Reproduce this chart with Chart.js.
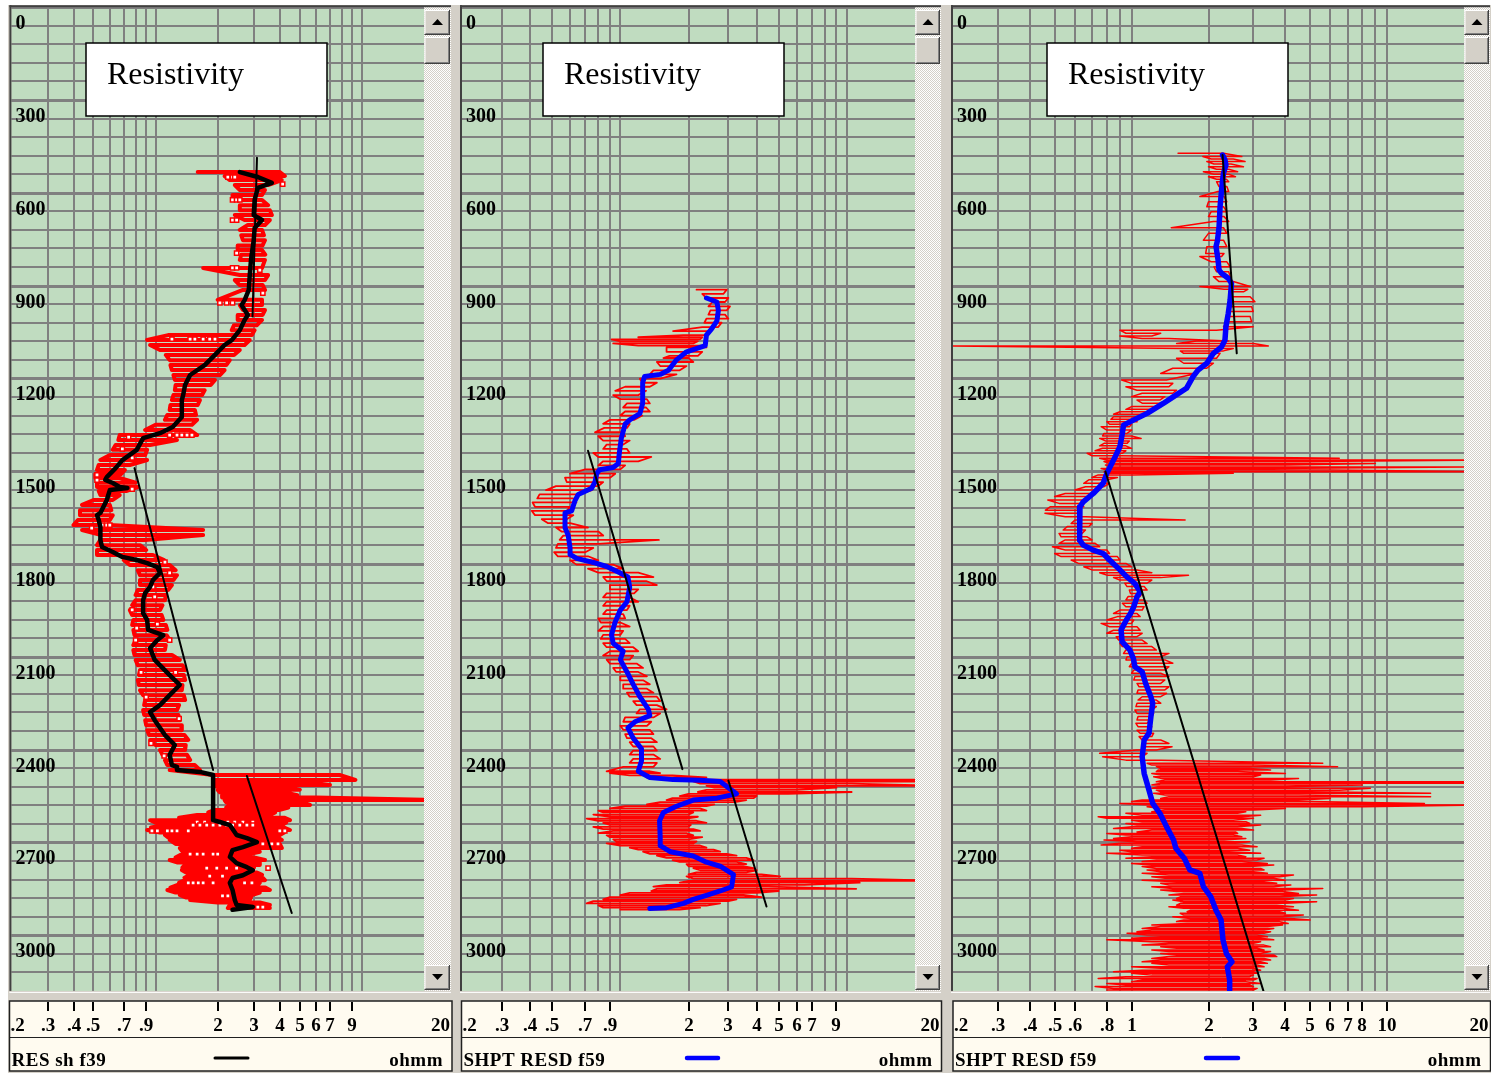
<!DOCTYPE html>
<html><head><meta charset="utf-8">
<script src="https://cdn.jsdelivr.net/npm/chart.js@4.4.1/dist/chart.umd.min.js"></script>
<style>
html,body{margin:0;padding:0;background:#fff;}
#wrap{position:relative;width:1491px;height:1073px;overflow:hidden;}
canvas{position:absolute;left:0;top:0;}
</style></head><body><div id="wrap">
<canvas id="c1" width="1491" height="1073"></canvas>
<canvas id="c2" width="1491" height="1073"></canvas>
<canvas id="c3" width="1491" height="1073"></canvas>
</div>
<script>
// ---------- axis / label data ----------
const depthGridValues = [0,60,120,180,240,300,360,420,480,540,600,660,720,780,840,900,960,1020,1080,1140,1200,1260,1320,1380,1440,1500,1560,1620,1680,1740,1800,1860,1920,1980,2040,2100,2160,2220,2280,2340,2400,2460,2520,2580,2640,2700,2760,2820,2880,2940,3000,3060,3120];
const depthLabels = [0,300,600,900,1200,1500,1800,2100,2400,2700,3000];
const xGridValues = [0.3,0.4,0.5,0.6,0.7,0.8,0.9,1,2,3,4,5,6,7,8,9,10];
const scaleTicksA = [0.3,0.4,0.5,0.7,0.9,2,3,4,5,6,7,9];
const scaleLabelsA = ['.3','.4','.5','.7','.9','2','3','4','5','6','7','9'];
const scaleTicksB = [0.3,0.4,0.5,0.6,0.8,1,2,3,4,5,6,7,8,10];
const scaleLabelsB = ['.3','.4','.5','.6','.8','1','2','3','4','5','6','7','8','10'];
const scaleEdgeLabels = ['.2','20'];
const titleText = 'Resistivity';
const curveNames = ['RES sh f39','SHPT RESD f59','SHPT RESD f59'];
const unitText = 'ohmm';

// ---------- panel 1 : RES sh f39 ----------
const p1RedDepth = [533,546,559,575,591,607,623,640,656,672,688,704,720,737,753,770,785,800,817,843,866,882,898,914,946,963,979,995,1011,1028,1044,1060,1076,1092,1108,1124,1141,1157,1173,1189,1205,1221,1238,1254,1270,1286,1302,1318,1334,1350,1367,1383,1399,1415,1431,1448,1464,1480,1496,1509,1522,1537,1551,1564,1577,1593,1609,1626,1642,1658,1674,1690,1706,1722,1739,1755,1771,1787,1803,1820,1836,1852,1868,1884,1900,1917,1933,1949,1965,1981,1997,2013,2030,2046,2062,2078,2094,2110,2127,2143,2159,2175,2191,2208,2224,2240,2256,2272,2288,2305,2321,2337,2353,2369,2385,2401,2417,2434,2450,2466,2482,2498,2506,2514,2522,2530,2538,2547,2555,2563,2571,2579,2587,2595,2603,2611,2620,2628,2636,2644,2652,2660,2668,2676,2684,2692,2705,2718,2730,2741,2749,2757,2765,2773,2781,2789,2797,2805,2814,2822,2830,2838,2846,2854,2862,2870,2878,2886,2894,2902,2912];
const p1RedLow = [1.60,2.16,2.29,2.42,2.56,2.36,2.36,2.56,2.56,2.42,2.70,2.80,2.56,2.60,2.65,2.50,2.50,2.60,2.56,1.70,2.56,2.42,2.55,2.65,2.00,2.56,2.65,2.50,2.50,2.40,2.34,1.15,0.91,0.94,1.05,1.12,1.17,1.18,1.20,1.22,1.24,1.25,1.24,1.22,1.20,1.18,1.17,1.14,1.11,1.00,0.89,0.67,0.66,0.64,0.62,0.60,0.54,0.53,0.52,0.51,0.51,0.52,0.52,0.53,0.54,0.50,0.44,0.43,0.43,0.42,0.40,0.44,0.54,0.54,0.52,0.52,0.52,0.70,0.75,0.82,0.84,0.84,0.84,0.82,0.80,0.80,0.77,0.75,0.77,0.78,0.77,0.78,0.79,0.80,0.78,0.78,0.79,0.80,0.82,0.84,0.83,0.82,0.83,0.84,0.87,0.89,0.88,0.87,0.88,0.89,0.90,0.91,0.93,0.94,1.00,1.05,1.08,1.11,1.14,1.17,1.90,1.90,1.95,1.90,2.00,2.00,2.05,2.11,2.10,2.16,2.20,2.29,2.20,1.94,1.80,1.59,1.30,0.94,1.00,1.09,0.95,0.91,1.05,1.11,1.15,1.17,1.25,1.31,1.35,1.31,1.25,1.17,1.28,1.39,1.35,1.34,1.40,1.47,1.38,1.39,1.30,1.27,1.18,1.14,1.25,1.31,1.40,1.47,2.00,2.29,2.24];
const p1RedHigh = [4.00,4.23,4.09,3.51,3.39,3.28,3.28,3.51,3.58,3.66,3.58,3.39,3.28,3.35,3.39,3.30,3.28,3.40,3.39,3.28,3.51,3.39,3.30,3.39,3.28,3.28,3.39,3.30,3.28,3.10,3.02,2.93,2.86,2.70,2.56,2.40,2.29,2.20,2.16,2.05,1.94,1.85,1.73,1.68,1.64,1.60,1.55,1.57,1.59,1.50,1.47,1.59,1.27,0.94,0.91,0.89,0.91,0.75,0.71,0.68,0.67,0.80,0.82,0.72,0.67,0.62,0.60,0.61,0.62,0.60,0.60,1.70,1.70,0.89,0.84,0.90,0.97,1.10,1.17,1.25,1.27,1.22,1.20,1.15,1.12,1.11,1.08,1.05,1.07,1.09,1.12,1.14,1.13,1.17,1.12,1.11,1.20,1.31,1.35,1.39,1.37,1.39,1.35,1.34,1.37,1.39,1.30,1.27,1.29,1.31,1.33,1.34,1.38,1.44,1.40,1.39,1.42,1.47,1.55,1.64,7.8,9.3,5.6,7.0,4.5,5.0,4.2,4.86,6.0,25,5.2,5.6,4.4,4.0,3.8,3.58,4.2,4.48,4.3,4.09,4.2,4.48,4.2,4.00,3.9,4.09,4.0,4.09,3.2,2.70,3.0,3.39,3.2,3.20,3.0,2.93,3.1,3.28,3.3,3.39,3.2,3.13,3.4,3.58,3.2,2.93,2.9,2.86,3.2,3.58,3.58];
const p1MarkDepth = [549,549,549,572,623,623,623,688,688,795,843,843,850,924,956,956,956,1073,1073,1073,1073,1073,1073,1383,1383,1383,1383,1383,1390,1428,1457,1512,1529,1558,1674,1674,1674,1684,1794,1829,1874,1906,1948,1994,2007,2046,2046,2150,2150,2230,2300,2380,2420,2634,2634,2634,2634,2634,2634,2634,2634,2644,2644,2644,2644,2644,2644,2644,2644,2644,2644,2663,2663,2663,2663,2663,2663,2663,2663,2705,2705,2705,2738,2738,2738,2738,2738,2783,2783,2783,2783,2783,2809,2809,2831,2831,2831,2831,2831,2831,2831,2873,2873,2909,2909];
const p1MarkRes = [2.24,2.36,2.42,4.13,2.36,2.47,2.56,2.36,2.47,2.47,2.36,2.47,3.20,3.31,2.05,2.21,2.36,1.20,1.47,1.55,1.70,1.83,1.94,1.17,1.27,1.34,1.42,1.50,0.74,0.69,0.77,0.52,0.52,0.77,0.55,0.58,0.60,0.49,1.11,1.17,0.97,0.99,0.77,1.02,0.81,0.80,1.17,0.85,1.25,0.90,1.30,0.95,1.10,1.59,1.73,1.90,2.05,2.24,2.42,2.65,2.96,1.52,1.64,1.77,1.90,2.05,2.21,2.36,2.56,2.77,2.96,0.96,1.02,1.14,1.20,1.27,1.44,4.00,4.23,3.31,3.66,3.92,1.47,1.59,1.70,1.90,2.00,1.77,1.98,2.21,2.47,3.51,1.83,2.11,1.44,1.52,1.61,1.70,1.90,2.70,2.93,2.11,2.24,3.13,3.31];
const p1CurveDepth = [533,549,568,584,623,672,688,714,753,817,866,914,947,963,995,1011,1044,1076,1092,1124,1157,1189,1221,1254,1270,1325,1357,1377,1393,1431,1464,1490,1519,1528,1538,1551,1554,1561,1593,1635,1642,1658,1680,1722,1745,1761,1777,1787,1797,1810,1829,1852,1874,1894,1917,1959,1981,2013,2030,2046,2072,2110,2159,2191,2224,2256,2279,2305,2353,2385,2417,2450,2456,2466,2472,2482,2628,2634,2644,2676,2686,2699,2715,2725,2747,2767,2780,2790,2806,2815,2831,2854,2886,2902,2909,2918];
const p1CurveRes = [2.56,3.13,3.66,3.13,3.02,2.99,3.28,3.02,2.99,2.90,2.86,2.83,2.70,2.61,2.80,2.70,2.56,2.34,2.16,1.94,1.73,1.47,1.39,1.36,1.34,1.34,1.21,1.05,0.87,0.81,0.69,0.64,0.58,0.57,0.62,0.67,0.73,0.60,0.58,0.54,0.52,0.53,0.54,0.54,0.55,0.62,0.69,0.81,0.91,1.02,1.05,0.97,0.94,0.89,0.87,0.87,0.91,0.92,1.09,1.02,0.94,0.99,1.17,1.31,1.17,1.05,0.94,0.99,1.11,1.24,1.17,1.20,1.27,1.27,1.64,1.90,1.90,2.05,2.29,2.47,2.77,3.10,2.65,2.36,2.29,2.47,2.77,2.96,2.65,2.36,2.29,2.36,2.42,2.47,2.96,2.36];
const p1TrendADepth = [487,1000], p1TrendARes = [3.10,2.95];
const p1TrendBDepth = [1490,2466], p1TrendBRes = [0.79,1.90];
const p1TrendCDepth = [2485,2928], p1TrendCRes = [2.77,4.57];

// ---------- panel 2 : SHPT RESD f59 ----------
const p2RedDepth = [913,927,940,953,967,980,994,1007,1020,1034,1047,1060,1067,1074,1080,1087,1094,1100,1114,1127,1134,1147,1160,1174,1187,1201,1214,1227,1240,1254,1267,1281,1294,1307,1320,1334,1347,1360,1374,1387,1401,1414,1428,1441,1454,1468,1481,1494,1508,1521,1535,1548,1561,1575,1588,1601,1615,1628,1642,1655,1668,1682,1695,1708,1722,1735,1748,1762,1775,1788,1802,1815,1828,1842,1855,1868,1882,1895,1908,1922,1935,1949,1962,1976,1989,2002,2016,2029,2042,2056,2069,2082,2096,2109,2122,2136,2149,2163,2176,2189,2203,2216,2229,2243,2256,2270,2283,2296,2310,2323,2336,2350,2363,2376,2390,2403,2416,2430,2443,2456,2470,2476,2483,2490,2497,2503,2510,2517,2523,2530,2537,2543,2550,2557,2563,2570,2577,2583,2590,2597,2603,2610,2617,2623,2630,2637,2643,2650,2657,2663,2670,2677,2683,2690,2697,2703,2710,2717,2723,2730,2737,2743,2750,2757,2763,2770,2777,2783,2790,2797,2803,2810,2817,2824,2830,2837,2843,2850,2857,2863,2870,2877,2884,2890,2897,2904,2911,2917];
const p2RedLow = [2.17,2.30,2.40,2.55,2.45,2.50,2.45,2.40,2.35,2.30,1.71,1.90,1.20,0.915,1.00,0.93,1.20,1.60,1.60,1.65,1.55,1.45,1.50,1.40,1.35,1.22,1.25,1.05,0.95,0.93,1.00,1.07,1.03,1.05,1.00,0.90,0.84,0.85,0.773,0.80,0.84,0.87,0.84,0.76,0.80,0.84,0.80,0.70,0.60,0.57,0.58,0.52,0.47,0.44,0.43,0.41,0.42,0.406,0.42,0.45,0.48,0.52,0.55,0.56,0.54,0.53,0.52,0.51,0.53,0.60,0.64,0.72,0.80,0.84,0.87,0.90,0.90,0.87,0.84,0.87,0.84,0.87,0.84,0.80,0.82,0.84,0.80,0.84,0.82,0.84,0.87,0.90,0.84,0.87,0.90,0.93,0.96,1.00,1.00,1.03,1.03,1.07,1.10,1.14,1.18,1.22,1.18,1.05,1.03,1.00,1.03,1.05,1.07,1.10,1.14,1.14,1.10,1.14,1.10,1.03,0.87,0.90,1.10,1.31,1.60,2.10,2.25,2.40,2.60,2.40,2.20,2.00,1.83,1.70,1.60,1.50,1.31,1.05,0.90,0.80,0.84,0.76,0.90,0.71,0.80,0.84,0.90,0.76,0.84,0.93,0.80,0.87,0.90,0.93,0.96,0.87,1.00,1.10,1.20,1.26,1.35,1.45,1.60,1.70,1.83,1.96,2.00,2.10,2.25,2.17,2.00,1.96,2.10,2.00,1.83,1.60,1.40,1.45,1.37,1.10,1.00,0.90,0.84,0.76,0.71,0.80,0.84,1.00];
const p2RedHigh = [2.95,2.85,3.00,2.90,3.05,2.95,2.90,3.00,2.80,2.70,2.45,2.40,2.30,2.25,2.20,2.10,2.25,2.40,2.30,2.20,2.00,2.10,1.96,1.83,1.77,1.50,1.45,1.35,1.30,1.20,1.31,1.35,1.30,1.35,1.25,1.15,1.10,1.07,1.03,1.05,1.10,1.03,1.07,1.10,1.37,1.20,1.05,1.00,0.95,0.90,0.84,0.80,0.75,0.65,0.62,0.64,0.60,0.58,0.62,0.58,0.60,0.72,0.80,0.84,1.48,0.80,0.76,0.70,0.72,0.80,0.93,1.03,1.20,1.40,1.30,1.45,1.20,1.15,1.10,1.20,1.10,1.07,1.03,1.05,1.00,1.10,1.03,1.00,1.05,1.10,1.14,1.20,1.14,1.10,1.18,1.26,1.20,1.31,1.26,1.35,1.31,1.40,1.45,1.50,1.45,1.60,1.50,1.40,1.37,1.31,1.35,1.40,1.37,1.45,1.40,1.45,1.40,1.50,1.45,1.40,1.35,1.50,1.70,2.40,25,25,10.5,25,9.0,6.0,10.5,5.5,4.0,3.87,3.60,3.2,2.60,2.40,2.25,2.40,2.10,2.00,2.20,1.96,2.17,2.40,2.05,2.00,2.10,2.25,1.96,2.10,2.30,2.00,2.17,2.10,2.25,2.40,2.58,2.76,2.95,3.26,3.60,3.87,3.26,3.60,3.49,3.87,4.00,3.60,4.20,5.07,10.5,25,11.4,6.5,4.5,11.0,5.0,4.0,3.50,4.20,3.26,3.00,2.76,2.40,2.25,1.83];
const p2CurveDepth = [940,953,980,1014,1040,1060,1094,1107,1114,1140,1174,1187,1194,1214,1281,1314,1334,1348,1394,1441,1475,1488,1495,1508,1535,1555,1575,1595,1628,1635,1682,1708,1748,1769,1782,1795,1808,1829,1842,1875,1922,1949,1989,2029,2056,2082,2109,2149,2189,2229,2270,2290,2310,2330,2363,2397,2437,2470,2490,2497,2499,2503,2523,2543,2557,2563,2583,2603,2630,2684,2710,2730,2744,2764,2777,2804,2844,2857,2871,2884,2897,2911,2914];
const p2CurveRes = [2.40,2.67,2.71,2.67,2.53,2.40,2.37,2.10,1.96,1.77,1.63,1.50,1.28,1.255,1.255,1.22,1.10,1.05,1.01,0.99,0.98,0.93,0.81,0.786,0.773,0.747,0.652,0.631,0.61,0.57,0.57,0.589,0.60,0.60,0.641,0.76,0.87,1.0,1.08,1.10,1.07,1.0,0.947,0.915,0.93,1.03,1.0,1.07,1.14,1.22,1.33,1.35,1.16,1.08,1.14,1.24,1.24,1.20,1.35,1.71,2.25,2.76,3.0,3.26,2.67,2.10,1.77,1.55,1.49,1.50,1.50,1.66,2.10,2.40,2.76,3.16,3.10,2.76,2.40,2.10,1.90,1.60,1.35];
const p2TrendADepth = [1434,2463], p2TrendARes = [0.72,1.88];
const p2TrendBDepth = [2500,2907], p2TrendBRes = [3.0,4.42];

// ---------- panel 3 : SHPT RESD f59 ----------
const p3RedDepth = [472,483,491,499,507,516,524,532,540,548,556,564,580,596,612,629,645,661,677,693,713,731,753,774,796,806,823,839,855,871,887,903,912,920,936,952,968,984,1000,1017,1033,1044,1054,1063,1071,1079,1087,1095,1103,1111,1119,1135,1151,1167,1184,1205,1216,1227,1238,1248,1259,1270,1280,1291,1300,1308,1316,1324,1332,1340,1348,1356,1367,1378,1386,1394,1402,1410,1418,1426,1434,1442,1450,1458,1464,1469,1475,1480,1486,1491,1496,1502,1507,1512,1520,1528,1539,1550,1561,1572,1582,1593,1604,1615,1626,1636,1647,1658,1669,1679,1690,1701,1712,1722,1733,1744,1755,1766,1776,1787,1798,1809,1819,1828,1836,1844,1852,1862,1873,1884,1895,1905,1916,
 1927,1938,1949,1960,1970,1981,1992,2003,2014,2024,2035,2046,2057,2067,2078,2089,2100,2110,2121,2132,2143,2153,2164,2175,2186,2197,2207,2218,2229,2240,2250,2261,2272,2283,2293,2304,2315,2326,2337,2347,2358,2369,2380,2391,2401,2412,2423,2434,2444,2450,2455,2461,2466,2471,2477,2482,2488,2493,2498,2504,2509,2514,2520,2525,2531,2536,2541,2547,2552,2558,2563,2568,2574,2579,2585,2590,2595,2601,2606,2612,2617,2622,2628,2633,2639,2644,2649,2655,2660,2666,2671,2676,2682,2687,2692,2698,2703,2708,2714,2719,2725,2730,2735,2741,2746,2751,2757,2762,2768,2773,2778,2784,2789,2795,2800,2805,2811,2816,2822,2827,2832,2838,2843,2849,2854,2859,2865,2870,2876,2881,2886,2892,2897,2903,2908,2913,2919,2924,2929,2935,2940,2946,2951,2956,2962,2967,2972,2978,2983,2989,2994,2999,3005,3010,3015,3021,3026,3032,3037,3042,3048,3053,3059,3064,3069,3075,3080,3086,3091,3096,3102,3107,3113,3118,3123,3129,3134,3140,3145,3150,3156,3161,3166,3172,3177];
const p3RedLow = [1.52,1.90,2.05,1.97,2.10,2.00,2.15,1.91,2.10,2.00,2.15,2.15,2.20,2.18,1.85,2.00,1.97,2.05,2.00,2.09,1.43,2.00,1.91,1.97,1.95,1.85,2.05,2.10,2.15,2.09,2.20,1.85,2.30,2.40,2.45,2.50,2.45,2.43,2.40,2.36,2.29,0.90,0.95,0.90,1.10,1.80,1.50,0.19,1.60,1.55,1.60,1.50,1.60,1.45,1.30,0.914,1.00,0.95,1.05,1.10,1.00,1.05,1.10,1.00,0.95,0.90,0.85,0.85,0.83,0.80,0.82,0.76,0.80,0.78,0.77,0.75,0.79,0.78,0.75,0.77,0.72,0.67,0.70,0.75,0.80,0.78,0.82,0.79,0.84,0.76,0.80,0.78,0.80,0.74,0.70,0.68,0.65,0.66,0.60,0.55,0.50,0.47,0.52,0.48,0.46,0.458,0.55,0.60,0.58,0.56,0.54,0.52,0.53,0.55,0.52,0.49,0.55,0.50,0.53,0.58,0.62,0.65,0.70,0.75,0.80,0.85,0.90,0.94,0.96,0.98,0.99,0.97,0.95,
 0.92,0.95,0.90,0.85,0.88,0.80,0.76,0.82,0.85,0.80,0.87,0.89,0.90,0.92,0.95,0.93,0.96,0.95,1.00,0.98,1.02,1.00,1.03,1.02,1.05,1.07,1.06,1.05,1.10,1.06,1.05,1.04,1.03,1.05,1.06,1.05,1.04,1.06,1.05,1.08,1.07,1.10,1.10,1.12,1.05,0.75,0.77,0.95,1.15,1.20,1.25,1.30,1.27,1.25,1.20,1.30,1.22,1.30,1.35,1.25,1.30,1.20,1.27,1.20,1.25,1.30,1.22,1.35,1.40,1.30,1.10,1.00,0.90,1.20,1.15,1.30,1.35,1.20,0.95,1.10,0.74,0.80,1.00,1.10,0.95,1.05,1.00,0.85,1.20,1.05,0.80,0.95,1.00,0.85,0.78,1.05,0.90,0.76,1.10,1.00,0.90,1.00,0.80,1.10,1.20,0.95,1.25,1.10,1.00,1.20,1.10,1.25,1.15,1.30,1.10,1.40,1.20,1.35,1.10,1.50,1.30,1.40,1.20,1.45,1.30,1.50,1.60,1.40,1.55,1.50,1.45,1.60,1.55,1.50,1.40,1.60,1.70,1.65,1.55,1.60,1.45,1.70,1.60,1.50,1.65,1.20,1.30,1.10,1.20,1.05,0.96,1.15,1.30,1.00,0.80,1.20,1.40,1.10,1.30,1.50,1.20,1.40,1.30,1.50,1.40,1.20,1.30,1.10,1.20,1.40,1.00,1.30,1.10,0.85,1.00,1.20,0.95,0.74,1.10,1.00,0.80,0.95,0.72,0.85,0.80];
const p3RedHigh = [2.29,2.70,2.50,2.78,2.45,2.74,2.40,2.60,2.40,2.55,2.35,2.40,2.36,2.40,2.30,2.36,2.29,2.36,2.30,2.40,2.29,2.36,2.29,2.36,2.30,2.25,2.36,2.43,2.40,2.43,2.50,2.91,2.85,2.74,2.91,3.04,2.95,2.99,2.91,2.95,2.99,2.15,1.30,1.20,1.40,2.40,3.00,3.43,2.50,2.29,2.22,2.15,2.09,1.97,1.80,1.37,1.45,1.40,1.50,1.45,1.35,1.29,1.35,1.25,1.18,1.15,1.10,1.08,1.02,1.05,1.00,0.98,1.00,0.96,1.00,1.09,0.98,0.96,0.95,1.00,0.95,0.92,0.90,6.5,25,5.0,9.0,4.0,25,3.5,6.0,25,2.5,1.00,0.88,0.80,0.82,0.78,0.75,0.70,0.68,0.66,0.63,0.65,0.62,0.63,0.66,1.62,0.70,0.68,0.66,0.64,0.67,0.70,0.72,0.75,0.80,0.82,0.88,0.90,0.95,1.00,1.05,1.20,1.67,1.30,1.20,1.15,1.12,1.15,1.10,1.08,1.12,
 1.15,1.12,1.10,1.05,1.08,1.02,1.00,1.05,1.08,1.10,1.05,1.10,1.15,1.20,1.25,1.40,1.30,1.35,1.45,1.40,1.35,1.30,1.40,1.35,1.30,1.40,1.35,1.37,1.30,1.25,1.30,1.25,1.20,1.22,1.20,1.18,1.15,1.20,1.18,1.22,1.20,1.30,1.40,1.44,1.25,1.15,1.10,1.30,5.6,3.0,6.4,2.9,3.5,2.6,4.0,3.2,3.0,4.5,3.5,25,19.6,8.0,4.0,8.6,6.5,5.0,14.8,4.5,14.8,6.0,4.5,5.0,14.0,25,8.0,4.0,3.0,2.8,2.6,3.2,2.7,3.0,2.5,2.8,2.9,3.2,2.6,2.7,3.0,2.55,2.6,2.5,2.7,2.8,2.3,2.9,2.55,2.7,3.1,2.6,2.9,2.4,3.2,2.6,2.8,3.3,3.1,2.7,3.4,3.6,2.9,3.2,3.3,3.0,3.4,4.3,3.8,3.6,4.0,3.3,3.7,4.2,3.6,5.6,4.0,3.9,4.5,5.3,3.8,4.3,4.0,5.3,4.0,3.7,4.3,3.9,4.5,3.8,4.0,4.7,3.9,4.2,5.0,3.8,4.1,3.9,3.4,3.6,3.3,3.5,3.3,3.1,3.4,3.2,3.6,3.2,3.0,3.3,3.5,3.1,3.3,3.5,3.2,3.6,3.7,3.3,3.5,3.2,3.4,3.1,3.3,3.0,3.2,3.0,3.1,3.0,2.9,3.1,3.0,2.8,3.2,2.9,3.0,3.1,3.0];
const p3CurveDepth = [478,494,510,537,559,591,645,710,753,774,817,850,860,876,893,947,990,1033,1076,1098,1119,1151,1173,1194,1232,1259,1281,1313,1334,1351,1378,1421,1464,1507,1539,1572,1599,1615,1669,1723,1739,1755,1766,1787,1819,1841,1863,1890,1906,1938,1960,1981,2013,2051,2078,2105,2132,2148,2186,2229,2250,2294,2347,2369,2423,2477,2531,2574,2606,2649,2692,2719,2752,2789,2800,2843,2875,2919,2951,3016,3059,3086,3102,3145,3177];
const p3CurveRes = [2.27,2.32,2.34,2.29,2.27,2.25,2.22,2.20,2.17,2.14,2.18,2.20,2.25,2.39,2.46,2.43,2.39,2.34,2.32,2.25,2.09,1.97,1.82,1.74,1.64,1.46,1.33,1.15,1.02,0.93,0.92,0.90,0.85,0.80,0.774,0.708,0.647,0.628,0.624,0.628,0.647,0.708,0.774,0.82,0.90,0.956,1.03,1.08,1.05,1.02,0.99,0.954,0.91,0.918,0.984,1.016,1.03,1.10,1.135,1.19,1.21,1.19,1.17,1.12,1.10,1.12,1.17,1.21,1.29,1.37,1.46,1.49,1.61,1.69,1.85,1.91,2.04,2.14,2.24,2.28,2.35,2.47,2.37,2.42,2.42];
const p3TrendADepth = [478,1119], p3TrendARes = [2.27,2.58];
const p3TrendBDepth = [1501,3180], p3TrendBRes = [0.79,3.28];

// ---------- helpers ----------
const W = 1491, H = 1073, PLOT_TOP = 7.2, PLOT_BOTTOM = 990.9;
function ladder(depths, lows, highs) {
  const pts = [];
  for (let i = 0; i < depths.length; i++) {
    if (i % 2 === 0) pts.push({x: lows[i], y: depths[i]}, {x: highs[i], y: depths[i]});
    else pts.push({x: highs[i], y: depths[i]}, {x: lows[i], y: depths[i]});
  }
  return pts;
}
function pairs(depths, vals) { return depths.map((d, i) => ({x: vals[i], y: d})); }
function lineDs(data, color, width) {
  return {data, showLine: true, borderColor: color, borderWidth: width, pointRadius: 0, clip: 0,
          borderJoinStyle: 'round', borderCapStyle: 'round', tension: 0};
}
function bevel(c, x, y, w, h) {
  c.fillStyle = '#D4D0C8'; c.fillRect(x, y, w, h);
  c.fillStyle = '#FFFFFF'; c.fillRect(x, y, w - 1, 1); c.fillRect(x, y, 1, h - 1);
  c.fillStyle = '#404040'; c.fillRect(x, y + h - 1, w, 1); c.fillRect(x + w - 1, y, 1, h);
  c.fillStyle = '#808080'; c.fillRect(x + 1, y + h - 2, w - 2, 1); c.fillRect(x + w - 2, y + 1, 1, h - 2);
}
function arrow(c, cx, cy, up) {
  c.fillStyle = '#000'; c.beginPath();
  if (up) { c.moveTo(cx - 5.5, cy + 3); c.lineTo(cx + 5.5, cy + 3); c.lineTo(cx, cy - 3); }
  else { c.moveTo(cx - 5.5, cy - 3); c.lineTo(cx + 5.5, cy - 3); c.lineTo(cx, cy + 3); }
  c.closePath(); c.fill();
}
function dither(c) {
  const t = document.createElement('canvas'); t.width = 2; t.height = 2;
  const g = t.getContext('2d'); g.fillStyle = '#FFFFFF'; g.fillRect(0, 0, 2, 2);
  g.fillStyle = '#D4D0C8'; g.fillRect(0, 0, 1, 1); g.fillRect(1, 1, 1, 1);
  return c.createPattern(t, 'repeat');
}

function makePanelPlugin(cfg) {
  return {
    id: 'panel' + cfg.key,
    beforeDraw(chart) {
      const c = chart.ctx, a = chart.chartArea;
      c.save();
      if (cfg.drawPage) { c.fillStyle = '#D4D0C8'; c.fillRect(8, 5, W - 8, H - 5); }
      c.fillStyle = '#C0DCC0'; c.fillRect(a.left, a.top, a.right - a.left, a.bottom - a.top);
      c.restore();
    },
    beforeDatasetsDraw(chart) {
      const c = chart.ctx, a = chart.chartArea, xs = chart.scales.x, ys = chart.scales.y;
      c.save();
      c.fillStyle = '#808080';
      xGridValues.forEach(v => { const px = Math.round(xs.getPixelForValue(v)); c.fillRect(px - 1, a.top, 2, a.bottom - a.top); });
      depthGridValues.forEach(d => {
        const py = Math.round(ys.getPixelForValue(d)); const lw = (d % 300 === 0) ? 3 : 2;
        c.fillRect(a.left, py - 1, a.right - a.left, lw);
      });
      c.fillStyle = '#000'; c.font = 'bold 20px "Liberation Serif"';
      c.textAlign = 'left'; c.textBaseline = 'alphabetic';
      depthLabels.forEach(d => c.fillText(String(d), a.left + 4, ys.getPixelForValue(d) + 22));
      c.restore();
    },
    afterDatasetsDraw(chart) {
      const c = chart.ctx;
      c.save();
      c.fillStyle = '#FFFFFF'; c.fillRect(cfg.boxL, 43, 241, 73);
      c.strokeStyle = '#000'; c.lineWidth = 1.5; c.strokeRect(cfg.boxL, 43, 241, 73);
      c.fillStyle = '#000'; c.font = '32px "Liberation Serif"'; c.textAlign = 'left'; c.textBaseline = 'alphabetic';
      c.fillText(titleText, cfg.boxL + 21, 84);
      c.restore();
    },
    afterDraw(chart) {
      const c = chart.ctx, a = chart.chartArea, xs = chart.scales.x;
      c.save();
      const sx = a.right, sw = cfg.scrollR - a.right;
      c.fillStyle = dither(c); c.fillRect(sx, a.top, sw, a.bottom - a.top);
      bevel(c, sx + 0.5, 10, sw - 1.5, 25); arrow(c, sx + sw / 2, 22, true);
      bevel(c, sx + 0.5, 37, sw - 1.5, 27);
      bevel(c, sx + 0.5, 965, sw - 1.5, 25); arrow(c, sx + sw / 2, 977, false);
      c.fillStyle = '#404040';
      c.fillRect(a.left - 2, a.top - 2, cfg.scrollR - a.left + 2, 2);
      c.fillRect(a.left - 2, a.top - 2, 2, a.bottom - a.top + 2);
      c.fillStyle = '#FFFFFF'; c.fillRect(a.left - 2, a.bottom + 1, cfg.scrollR - a.left + 2, 1);
      const cl = cfg.creamL, cr = cfg.creamR;
      c.fillStyle = '#FFFBF0'; c.fillRect(cl, 1001, cr - cl, 70);
      c.strokeStyle = '#202020'; c.lineWidth = 1.5; c.strokeRect(cl, 1001, cr - cl, 70);
      c.lineWidth = 1; c.beginPath(); c.moveTo(cl, 1037.5); c.lineTo(cr, 1037.5); c.stroke();
      c.fillStyle = '#000';
      c.font = 'bold 19px "Liberation Serif"'; c.textBaseline = 'alphabetic';
      cfg.ticks.forEach((v, i) => {
        const px = Math.round(xs.getPixelForValue(v));
        c.fillRect(px - 1, 1002, 2, 9);
        c.textAlign = 'center'; c.fillText(cfg.labels[i], px, 1031);
      });
      c.textAlign = 'left'; c.fillText(scaleEdgeLabels[0], cl + 1, 1031);
      c.textAlign = 'right'; c.fillText(scaleEdgeLabels[1], cr - 2, 1031);
      c.font = 'bold 19px "Liberation Serif"';
      try { c.letterSpacing = '0.5px'; } catch (e) {}
      c.textAlign = 'left'; c.fillText(cfg.name, cl + 2, 1066);
      c.textAlign = 'right'; c.fillText(unitText, cr - 9, 1066);
      c.strokeStyle = cfg.legColor; c.lineWidth = cfg.legW; c.lineCap = 'round';
      c.beginPath(); c.moveTo(cfg.legX1, 1058); c.lineTo(cfg.legX2, 1058); c.stroke();
      c.restore();
    }
  };
}

function makeChart(id, cfg, datasets) {
  return new Chart(document.getElementById(id).getContext('2d'), {
    type: 'scatter',
    data: {datasets},
    options: {
      responsive: false, animation: false, devicePixelRatio: 1, events: [],
      layout: {padding: {left: cfg.plotL, right: W - cfg.plotR, top: PLOT_TOP, bottom: H - PLOT_BOTTOM}},
      plugins: {legend: {display: false}, tooltip: {enabled: false}},
      scales: {
        x: {type: 'logarithmic', min: 0.2, max: 20, position: 'bottom',
            afterFit: s => { s.height = 0; },
            ticks: {display: false}, border: {display: false}, grid: {display: false}},
        y: {type: 'linear', reverse: true, min: 0, max: 3180, position: 'left',
            afterFit: s => { s.width = 0; },
            ticks: {display: false}, border: {display: false}, grid: {display: false}}
      }
    },
    plugins: [makePanelPlugin(cfg)]
  });
}

// datasets: first in list is drawn on top
makeChart('c1', {key: 1, drawPage: true, plotL: 11.4, plotR: 424, scrollR: 451, creamL: 9.5, creamR: 452, boxL: 86,
  name: curveNames[0], legColor: '#000', legW: 3, legX1: 215, legX2: 248, ticks: scaleTicksA, labels: scaleLabelsA}, [
  lineDs(pairs(p1TrendADepth, p1TrendARes), '#000000', 2),
  lineDs(pairs(p1TrendBDepth, p1TrendBRes), '#000000', 2),
  lineDs(pairs(p1TrendCDepth, p1TrendCRes), '#000000', 2),
  lineDs(pairs(p1CurveDepth, p1CurveRes), '#000000', 4.5),
  {data: pairs(p1MarkDepth, p1MarkRes), showLine: false, pointStyle: 'rect', pointRadius: 3,
   pointBackgroundColor: '#FFFFFF', pointBorderColor: '#FF0000', pointBorderWidth: 1.5, clip: 0},
  lineDs(ladder(p1RedDepth, p1RedLow, p1RedHigh), '#FF0000', 4)
]);
makeChart('c2', {key: 2, plotL: 462, plotR: 915, scrollR: 941, creamL: 461.5, creamR: 941.5, boxL: 543,
  name: curveNames[1], legColor: '#0000FF', legW: 4.5, legX1: 687, legX2: 718, ticks: scaleTicksA, labels: scaleLabelsA}, [
  lineDs(pairs(p2TrendADepth, p2TrendARes), '#000000', 2),
  lineDs(pairs(p2TrendBDepth, p2TrendBRes), '#000000', 2),
  lineDs(pairs(p2CurveDepth, p2CurveRes), '#0000FF', 5),
  lineDs(ladder(p2RedDepth, p2RedLow, p2RedHigh), '#FF0000', 1.8)
]);
makeChart('c3', {key: 3, plotL: 953, plotR: 1464, scrollR: 1490, creamL: 953, creamR: 1490.5, boxL: 1047,
  name: curveNames[2], legColor: '#0000FF', legW: 4.5, legX1: 1206, legX2: 1238, ticks: scaleTicksB, labels: scaleLabelsB}, [
  lineDs(pairs(p3TrendADepth, p3TrendARes), '#000000', 2),
  lineDs(pairs(p3TrendBDepth, p3TrendBRes), '#000000', 2),
  lineDs(pairs(p3CurveDepth, p3CurveRes), '#0000FF', 5.5),
  lineDs(ladder(p3RedDepth, p3RedLow, p3RedHigh), '#FF0000', 1.5)
]);
</script></body></html>
